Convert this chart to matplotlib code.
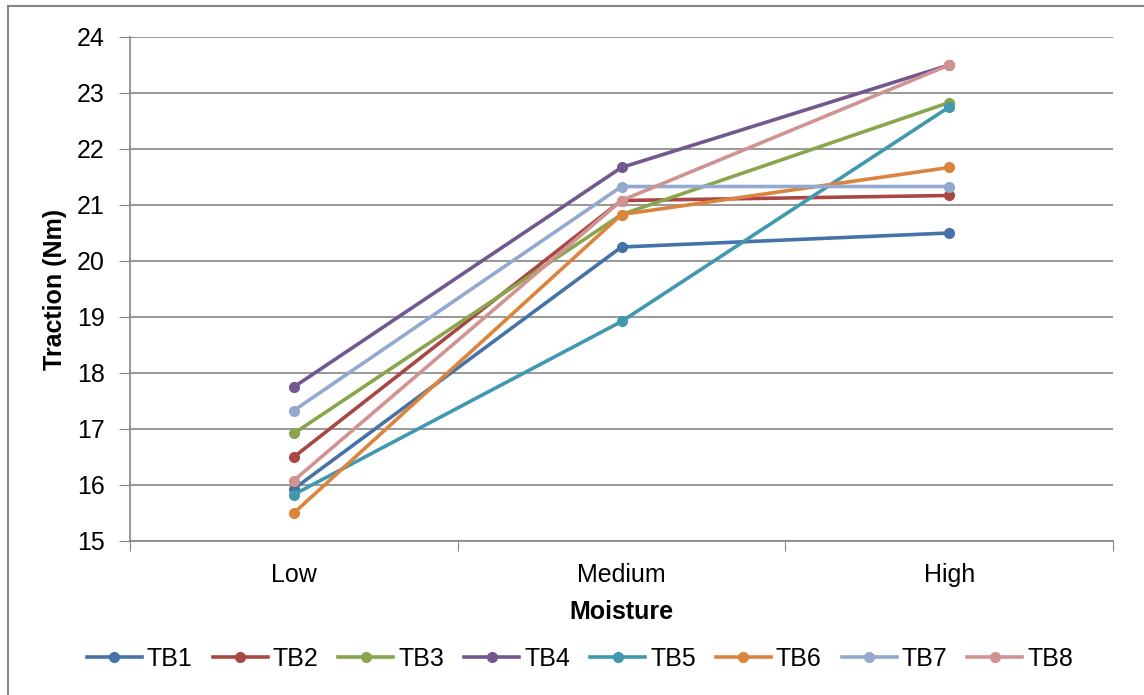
import matplotlib.pyplot as plt
from matplotlib.lines import Line2D

plt.rcParams['font.family'] = ['Liberation Sans', 'DejaVu Sans']

# moisture levels and traction (Nm) for each series
levels = ["Low", "Medium", "High"]
tb1 = [15.93, 20.25, 20.5]
tb2 = [16.5, 21.08, 21.17]
tb3 = [16.92, 20.83, 22.83]
tb4 = [17.75, 21.67, 23.5]
tb5 = [15.83, 18.92, 22.75]
tb6 = [15.5, 20.83, 21.67]
tb7 = [17.33, 21.33, 21.33]
tb8 = [16.08, 21.08, 23.5]

names = ["TB1", "TB2", "TB3", "TB4", "TB5", "TB6", "TB7", "TB8"]
series = [tb1, tb2, tb3, tb4, tb5, tb6, tb7, tb8]
colors = ["#4572A7", "#AA4643", "#89A54E", "#71588F",
          "#4198AF", "#DB843D", "#93A9CF", "#D19392"]

fig = plt.figure(figsize=(11.44, 6.95), dpi=100)
ax = fig.add_axes([130/1144, 1-541/695, (1113-130)/1144, (541-37)/695])

x = list(range(len(levels)))
for name, vals, c in zip(names, series, colors):
    ax.plot(x, vals, color=c, lw=2.6, marker='o', ms=7, label=name,
            solid_capstyle='round')

ax.set_xlim(-0.5, 2.5)
ax.set_ylim(15, 24)
ax.set_yticks(range(15, 25))
ax.set_xticks([-0.5, 0.5, 1.5, 2.5])
ax.set_xticklabels([])
ax.set_xticks(x, minor=True)
ax.set_xticklabels(levels, minor=True)
ax.tick_params(axis='x', which='minor', length=0, pad=16, labelsize=18)
ax.tick_params(axis='x', which='major', length=7, color='#868686')
ax.tick_params(axis='y', length=8, color='#868686', labelsize=18, pad=10)

ax.grid(axis='y', color='#868686', lw=1.2)
ax.set_axisbelow(True)
for s in ['top', 'right']:
    ax.spines[s].set_visible(False)
for s in ['left', 'bottom']:
    ax.spines[s].set_color('#868686')
    ax.spines[s].set_linewidth(1.2)

ax.set_xlabel("Moisture", fontsize=18, fontweight='bold', labelpad=9)
ax.set_ylabel("Traction (Nm)", fontsize=18, fontweight='bold', labelpad=7)

handles = [Line2D([], [], color=c, lw=2.6, marker='o', ms=7) for c in colors]
fig.legend(handles, names, loc='center', bbox_to_anchor=(580/1144, 1-659/695),
           ncol=8, frameon=False, fontsize=18, handlelength=2.2,
           handletextpad=0.2, columnspacing=0.8)

# outer chart border (left and top edges)
fig.add_artist(Line2D([8/1144, 8/1144], [0, 1-6/695], color='#868686',
                      lw=1.5, transform=fig.transFigure))
fig.add_artist(Line2D([8/1144, 1], [1-6/695, 1-6/695], color='#868686',
                      lw=1.5, transform=fig.transFigure))

fig.savefig("out.png", dpi=100)
